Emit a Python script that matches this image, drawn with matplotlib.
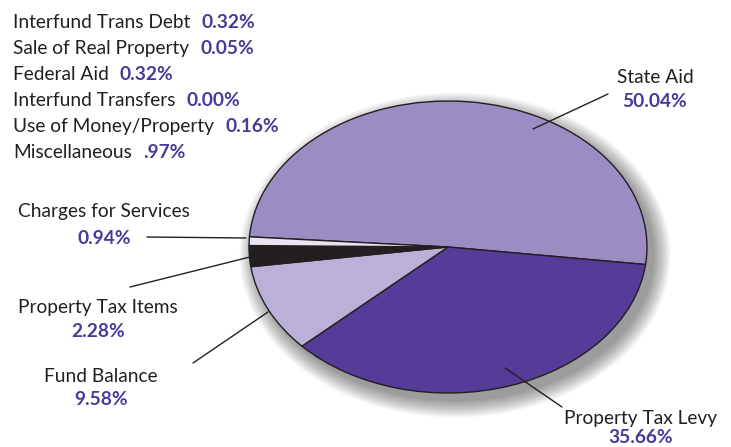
import matplotlib.pyplot as plt
from matplotlib.patches import Ellipse

# pie slices (visible wedges), clockwise from the left
slice_names = ['State Aid', 'Property Tax Levy', 'Fund Balance', 'Property Tax Items', 'Charges for Services']
slice_values = [50.04, 35.66, 9.58, 2.28, 0.94]
slice_colors = ['#9b8cc3', '#553c98', '#bab0d8', '#231f20', '#e8e4f1']

# small items listed at top left
small_names = ['Interfund Trans Debt', 'Sale of Real Property', 'Federal Aid',
               'Interfund Transfers', 'Use of Money/Property', 'Miscellaneous']
small_values = ['0.32%', '0.05%', '0.32%', '0.00%', '0.16%', '.97%']

W, H = 731, 447
FONT = 'Lato'
FS = 13.8
TXT = '#231f20'
PCT = '#4a3a98'

fig = plt.figure(figsize=(W / 100, H / 100), dpi=100)
ax = fig.add_axes([0, 0, 1, 1])

# ellipse center / radii in pixels
cx, cy, rx, ry = 448, 247, 199, 146

def fx(x, y):
    return (x / W, 1 - y / H)

# soft shadow behind the pie
for i in range(22):
    g = i * 0.8
    ax.add_patch(Ellipse((7 / rx, -8 / ry), 2 + 2 * g / rx, 2 + 2 * g / ry,
                         facecolor='black', edgecolor='none', alpha=0.018, zorder=0))

wedges, _ = ax.pie(slice_values, colors=slice_colors, startangle=176, counterclock=False,
                   wedgeprops=dict(edgecolor=TXT, linewidth=1.0))
for w in wedges:
    w.set_zorder(2)
ax.set_aspect('auto')
ax.set_xlim(-cx / rx, (W - cx) / rx)
ax.set_ylim(-(H - cy) / ry, cy / ry)
ax.axis('off')

# labels around the pie: (name, value, center x, name baseline y, value baseline y)
labels = [
    (slice_names[0], slice_values[0], 655, 83, 107),
    (slice_names[1], slice_values[1], 641, 424, 443),
    (slice_names[2], slice_values[2], 101, 382, 405),
    (slice_names[3], slice_values[3], 98, 313, 337),
    (slice_names[4], slice_values[4], 104, 217, 244),
]
for name, val, x, y1, y2 in labels:
    fig.text(*fx(x, y1), name, ha='center', va='baseline', fontsize=FS, family=FONT, color=TXT)
    fig.text(*fx(x, y2), f'{val:.2f}%', ha='center', va='baseline', fontsize=FS,
             family=FONT, fontweight='bold', color=PCT)

# leader lines
leaders = [((533, 129), (608, 94)), ((505, 368), (562, 407)), ((268, 312), (193, 363)),
           ((250, 257), (130, 287)), ((246, 238), (147, 237))]
for a, b in leaders:
    ax.annotate('', xy=fx(*a), xytext=fx(*b), xycoords='figure fraction',
                textcoords='figure fraction',
                arrowprops=dict(arrowstyle='-', lw=1.0, color=TXT, shrinkA=0, shrinkB=0),
                zorder=5)

# top-left list
fig.canvas.draw()
r = fig.canvas.get_renderer()
y0 = 28
for i, (name, val) in enumerate(zip(small_names, small_values)):
    y = y0 + i * 26
    t = fig.text(*fx(13, y), name, ha='left', va='baseline', fontsize=FS, family=FONT, color=TXT)
    bb = t.get_window_extent(r)
    fig.text(bb.x1 / W + 11 / W, 1 - y / H, val, ha='left', va='baseline', fontsize=FS,
             family=FONT, fontweight='bold', color=PCT)

fig.savefig('out.png', dpi=100)
